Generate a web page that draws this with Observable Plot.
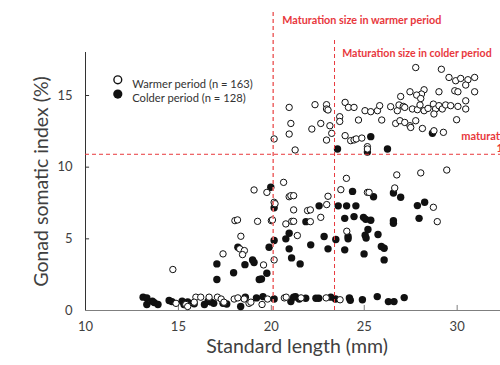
<!DOCTYPE html>
<html><head><meta charset="utf-8">
<script src="https://cdn.jsdelivr.net/npm/d3@7"></script>
<script src="https://cdn.jsdelivr.net/npm/@observablehq/plot@0.6"></script>
<style>
html,body{margin:0;padding:0;background:#fff;overflow:hidden;width:500px;height:365px;}
#chart{width:560px;}
</style></head><body><div id="chart"></div>
<script>
const xTicks = [10, 15, 20, 25, 30];
const yTicks = [0, 5, 10, 15];
const warmerSize = 20.1, colderSize = 23.4, gsiThreshold = 10.9;
const legendLabels = ["Warmer period (n = 163)", "Colder period (n = 128)"];
const annotations = ["Maturation size in warmer period", "Maturation size in colder period", "maturation GSI", "10.9%"];
const xTitle = "Standard length (mm)";
const yTitle = "Gonad somatic index (%)";

// [standard length (mm), GSI (%)]
const colder = [
[13.1,0.93],[13.3,0.88],[13.3,0.42],[13.6,0.65],[13.7,0.55],[13.9,0.42],[14.5,0.7],[14.65,0.62],[15.2,0.65],[15.3,0.42],
[15.5,0.6],[15.85,0.47],[16.4,0.42],[16.6,0.65],[16.75,0.6],[16.9,0.5],[17.4,0.5],[17.6,0.45],[18.35,0.28],[18.6,0.93],
[19.2,0.88],[19.55,0.97],[20.15,0.8],[21.05,0.62],[21.2,0.93],[21.3,0.97],[21.5,0.8],[21.85,0.85],[22.4,0.85],[22.55,0.85],
[23.2,0.93],[23.45,0.8],[24.2,0.88],[24.25,0.72],[24.9,0.75],[25.7,0.97],[26.3,0.62],[26.6,0.62],[27.15,0.9],
[17.07,3.25],[17.07,2.16],[17.97,2.63],[18.2,4.41],[18.58,3.2],[18.99,3.53],[19.07,3.35],[19.35,2.16],[19.47,2.2],[19.76,2.6],
[19.88,4.41],[19.97,8.6],[20.15,7.16],[20.15,4.88],[20.96,5.39],[20.78,5.0],[20.96,4.3],[21.09,3.67],[21.55,3.25],[21.86,6.2],
[22.12,4.58],[22.57,7.3],[22.84,5.16],[23.05,4.3],[23.47,4.95],[23.6,7.3],[24.05,7.3],[24.55,7.3],[23.95,6.43],[23.95,4.23],
[24.13,5.16],[24.13,5.0],[24.37,8.31],[24.45,6.55],[24.96,6.5],[25.08,6.36],[25.35,6.3],[24.99,3.95],[25.05,5.25],[25.1,5.05],
[25.2,5.65],[25.5,7.94],[25.74,5.3],[25.92,4.46],[26.07,4.34],[26.07,3.53],[26.57,8.2],[26.57,6.27],[26.57,6.08],[26.96,7.9],
[27.86,7.32],[28.25,7.55],[27.95,6.43],
[23.56,11.27],[25.35,12.13],[25.17,11.05],[26.25,11.27],[28.67,12.37]
];

const warmer = [
[14.87,0.5],[15.4,0.42],[15.5,0.28],[15.94,0.93],[15.85,0.58],[16.2,0.93],[16.65,0.93],[17.1,0.93],[17.3,0.8],[17.45,0.58],
[18.0,0.8],[18.2,0.88],[18.54,0.8],[18.8,0.5],[18.9,0.58],[19.5,0.42],[19.8,0.8],[20.7,0.88],[20.8,0.93],[21.6,0.88],
[22.95,0.88],[23.7,0.75],
[14.7,2.86],[17.4,3.95],[18.3,4.3],[18.55,4.18],[18.45,3.9],[18.36,5.18],[18.04,6.27],[18.18,6.32],[19.07,8.41],[19.26,6.22],
[19.58,3.18],[19.76,8.24],[20.0,6.27],[20.06,6.32],[20.15,7.55],[20.2,7.45],[20.15,3.53],[20.66,8.94],[20.96,7.94],[21.05,8.01],
[21.2,8.01],[21.2,7.02],[20.78,6.04],[21.1,6.22],[21.2,6.22],[21.4,5.23],[21.95,6.97],[22.1,7.02],[22.1,6.2],[22.66,6.5],
[22.98,7.39],[23.05,7.97],[23.74,8.43],[24.04,9.22],[24.06,5.53],[25.17,8.24],[25.26,8.24],[26.64,8.55],[26.75,9.46],[28.04,9.6],
[29.44,9.8],[28.72,7.2],[28.93,6.2],
[20.15,11.97],[20.96,14.17],[21.05,13.05],[20.96,12.31],[21.28,11.2],[22.35,14.36],[22.18,12.66],[22.66,13.05],[22.97,14.36],[22.97,14.06],
[23.05,13.99],[23.15,12.89],[23.25,12.36],[22.97,11.89],[23.68,13.52],[23.68,13.19],[23.97,14.52],[24.15,14.17],[24.45,14.17],[23.97,12.2],
[24.69,13.29],[24.27,11.85],[24.45,11.9],[24.57,11.97],[24.87,12.03],[25.17,11.43],[25.17,11.27],[25.04,13.94],[25.35,13.87],[25.71,13.94],
[25.83,14.29],[25.94,13.29],[26.42,14.22],[26.69,13.05],[26.78,13.94],
[27.77,16.95],[29.15,16.83],[29.56,16.26],[29.92,16.03],[30.19,16.19],[30.58,16.1],[30.94,16.26],[30.46,15.73],[29.87,15.33],[30.04,15.26],
[30.94,15.26],[29.02,15.26],[27.46,15.26],[28.22,15.4],[28.08,15.1],[27.82,15.03],[28.04,14.79],[26.96,14.93],[30.46,14.63],[26.87,14.34],
[27.1,14.24],[27.18,14.17],[27.59,14.06],[27.86,14.01],[28.0,14.34],[28.22,13.94],[28.43,14.1],[28.72,14.4],[28.84,14.06],[29.02,14.29],
[29.2,14.06],[29.38,14.34],[29.65,14.29],[30.04,14.24],[30.46,14.06],[28.75,13.71],[26.92,13.24],[27.18,13.12],[27.46,12.89],[27.77,13.24],
[27.5,12.77],[29.97,13.31],[28.13,12.7],[28.75,12.54],[29.26,12.43]
];

const red = "#e8383d";
const ink = "#111";
const chart = Plot.plot({
  width: 560, height: 365,
  marginLeft: 85, marginRight: 29, marginTop: 52, marginBottom: 55,
  style: {fontFamily: "Lato, 'Open Sans', sans-serif", fontSize: "13px", color: "#404040", background: "#fff", overflow: "visible"},
  x: {domain: [10, 34]},
  y: {domain: [0, 18]},
  marks: [
    Plot.axisX(xTicks, {tickSize: 0, tickPadding: 11, label: null, fontSize: 13}),
    Plot.axisY(yTicks, {tickSize: 0, tickPadding: 13, label: null, fontSize: 13}),
    Plot.ruleY([0], {x1: 10, x2: 34, stroke: "#7f7f7f"}),
    Plot.ruleX([10], {y1: 0, y2: 18, stroke: "#333"}),
    Plot.ruleX(xTicks.slice(1), {x: d => d, y1: 0, y2: 0.35, stroke: "#7f7f7f"}),
    Plot.ruleY(yTicks.slice(1), {y: d => d, x1: 10, x2: 10.22, stroke: "#333"}),
    Plot.dot(colder, {x: d => d[0], y: d => d[1], r: 3.7, fill: ink, stroke: "none"}),
    Plot.dot(warmer, {x: d => d[0], y: d => d[1], r: 3.2, fill: "#fff", stroke: ink, strokeWidth: 1}),
    Plot.ruleX([warmerSize], {x: d => d, y1: 0, y2: 20.8, stroke: "#ee6f6f", strokeWidth: 1.6, strokeDasharray: "4,3"}),
    Plot.ruleX([colderSize], {x: d => d, y1: 0, y2: 18.95, stroke: red, strokeWidth: 1, strokeDasharray: "4,3"}),
    Plot.ruleY([gsiThreshold], {y: d => d, x1: 10, x2: 34, stroke: red, strokeWidth: 1, strokeDasharray: "4,3"}),
    Plot.text([warmerSize], {x: d => d, text: () => annotations[0], frameAnchor: "top", dx: 9, dy: -35.7, textAnchor: "start", fill: red, fontWeight: "bold", fontSize: 10.8}),
    Plot.text([colderSize], {x: d => d, text: () => annotations[1], frameAnchor: "top", dx: 7.7, dy: -2.7, textAnchor: "start", fill: red, fontWeight: "bold", fontSize: 10.6}),
    Plot.text([gsiThreshold], {y: d => d, text: () => annotations[2], frameAnchor: "left", dx: 375.7, dy: -18, textAnchor: "start", fill: red, fontWeight: "bold", fontSize: 11}),
    Plot.text([gsiThreshold], {y: d => d, text: () => annotations[3], frameAnchor: "left", dx: 411, dy: -6, textAnchor: "start", fill: red, fontWeight: "bold", fontSize: 11}),
    Plot.dot([legendLabels[0]], {frameAnchor: "top-left", dx: 32.3, dy: 27.3, r: 3.9, fill: "#fff", stroke: ink, strokeWidth: 1.4}),
    Plot.dot([legendLabels[1]], {frameAnchor: "top-left", dx: 32.3, dy: 41.6, r: 4.6, fill: ink}),
    Plot.text([legendLabels[0]], {text: d => d, frameAnchor: "top-left", dx: 46.7, dy: 27.3, textAnchor: "start", fill: "#333", fontSize: 11.2}),
    Plot.text([legendLabels[1]], {text: d => d, frameAnchor: "top-left", dx: 46.7, dy: 41.6, textAnchor: "start", fill: "#333", fontSize: 11.2}),
    Plot.text([xTitle], {text: d => d, frameAnchor: "bottom-left", dx: 211.5, dy: 42, textAnchor: "middle", fill: "#404040", fontSize: 19.5}),
    Plot.text([yTitle], {text: d => d, frameAnchor: "left", dx: -43.3, rotate: -90, textAnchor: "middle", fill: "#404040", fontSize: 19.5})
  ]
});
document.getElementById("chart").append(chart);
</script></body></html>
